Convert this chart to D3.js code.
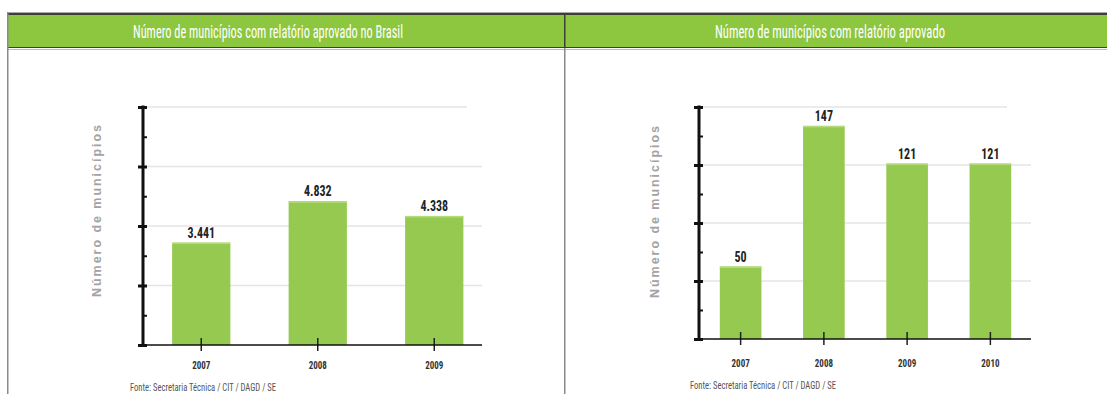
<!DOCTYPE html>
<html>
<head>
<meta charset="utf-8">
<script src="https://cdn.jsdelivr.net/npm/d3@7/dist/d3.min.js"></script>
<style>
  html, body { margin: 0; padding: 0; background: #fff; }
  svg { display: block; }
  .narrow { font-family: "Liberation Sans Narrow", "Arial Narrow", "Roboto Condensed", sans-serif; }
</style>
</head>
<body>
<svg id="c" width="1107" height="394"></svg>
<script>
// ---- Data ----
const titleLeft = "Número de municípios com relatório aprovado no Brasil";
const titleRight = "Número de municípios com relatório aprovado";
const yAxisTitle = "Número de municípios";
const sourceText = "Fonte: Secretaria Técnica / CIT / DAGD / SE";

const yearsLeft = ["2007", "2008", "2009"];
const valuesLeft = [3441, 4832, 4338];
const labelsLeft = ["3.441", "4.832", "4.338"];
const yMaxLeft = 8000;
const yMajorLeft = [0, 2000, 4000, 6000, 8000];
const yMinorLeft = [1000, 3000, 5000, 7000];

const yearsRight = ["2007", "2008", "2009", "2010"];
const valuesRight = [50, 147, 121, 121];
const labelsRight = ["50", "147", "121", "121"];
const yMaxRight = 160;
const yMajorRight = [0, 40, 80, 120, 160];
const yMinorRight = [20, 60, 100, 140];

// ---- Frame ----
const svg = d3.select("#c");
const GREEN = "#8dc63f";
const BAR = "#96c94f";

svg.append("rect").attr("x", 7).attr("y", 12).attr("width", 1100).attr("height", 1).attr("fill", "#aaa");
svg.append("rect").attr("x", 7).attr("y", 13).attr("width", 1100).attr("height", 35).attr("fill", "#3b3f36");
svg.append("rect").attr("x", 8).attr("y", 15).attr("width", 1099).attr("height", 32).attr("fill", GREEN);
svg.append("rect").attr("x", 7).attr("y", 49).attr("width", 1100).attr("height", 1).attr("fill", "#bbb");
svg.append("rect").attr("x", 7).attr("y", 12).attr("width", 1.5).attr("height", 382).attr("fill", "#8a8a8a");
svg.append("rect").attr("x", 564).attr("y", 13).attr("width", 1.5).attr("height", 35).attr("fill", "#3b3f36");
svg.append("rect").attr("x", 564).attr("y", 48).attr("width", 1.5).attr("height", 346).attr("fill", "#8a8a8a");

function condense(sel, f) {
  sel.each(function () {
    const w = this.getComputedTextLength();
    d3.select(this).attr("textLength", w * f).attr("lengthAdjust", "spacingAndGlyphs");
  });
}

function header(text, cx, w) {
  svg.append("text").attr("class", "narrow")
    .attr("x", cx).attr("y", 37.5).attr("text-anchor", "middle")
    .attr("font-size", 18).attr("fill", "#fff")
    .attr("textLength", w).attr("lengthAdjust", "spacingAndGlyphs")
    .text(text);
}
header(titleLeft, 268, 270);
header(titleRight, 830, 230);

function chart(cfg) {
  const g = svg.append("g");
  const x = d3.scaleBand().domain(cfg.years).range([cfg.ax, cfg.xEnd]).paddingInner(0.5).paddingOuter(0.25);
  const y = d3.scaleLinear().domain([0, cfg.yMax]).range([cfg.base, cfg.top]);

  g.selectAll(".grid").data(cfg.major.filter(d => d > 0)).join("line")
    .attr("x1", cfg.ax).attr("x2", d => d === cfg.yMax ? cfg.topGridEnd : cfg.lineEnd)
    .attr("y1", d => y(d)).attr("y2", d => y(d))
    .attr("stroke", "#e4e4e4").attr("stroke-width", 1.5);

  g.selectAll(".bar").data(cfg.values).join("rect")
    .attr("x", (d, i) => x(cfg.years[i]))
    .attr("width", x.bandwidth())
    .attr("y", d => y(d))
    .attr("height", d => cfg.base - y(d))
    .attr("fill", BAR);
  g.selectAll(".barTop").data(cfg.values).join("rect")
    .attr("x", (d, i) => x(cfg.years[i]))
    .attr("width", x.bandwidth())
    .attr("y", d => y(d)).attr("height", 1.5)
    .attr("fill", "#b4dc7c");

  const vals = g.selectAll(".val").data(cfg.values).join("text")
    .attr("class", "narrow")
    .attr("x", (d, i) => x(cfg.years[i]) + x.bandwidth() / 2)
    .attr("y", d => y(d) - 5)
    .attr("text-anchor", "middle")
    .attr("font-size", 15).attr("font-weight", "bold").attr("fill", "#222")
    .text((d, i) => cfg.labels[i]);
  condense(vals, 0.8);

  const yAxis = d3.axisLeft(y).tickValues(cfg.major).tickFormat("").tickSizeInner(5).tickSizeOuter(0);
  const ya = g.append("g").attr("transform", `translate(${cfg.ax},0)`).call(yAxis);
  ya.select(".domain").remove();
  ya.selectAll(".tick line").attr("x1", 4).attr("x2", -5).attr("stroke", "#111").attr("stroke-width", 3);
  const yMinor = d3.axisLeft(y).tickValues(cfg.minor).tickFormat("").tickSizeInner(-4).tickSizeOuter(0);
  const ym = g.append("g").attr("transform", `translate(${cfg.ax},0)`).call(yMinor);
  ym.select(".domain").remove();
  ym.selectAll(".tick line").attr("stroke", "#111").attr("stroke-width", 2);

  const xAxis = d3.axisBottom(x).tickSizeInner(7).tickSizeOuter(0).tickPadding(9);
  const xa = g.append("g").attr("transform", `translate(0,${cfg.base})`).call(xAxis);
  xa.select(".domain").remove();
  xa.selectAll(".tick line").attr("y1", -7).attr("y2", 6).attr("stroke", "#222").attr("stroke-width", 1.5);
  const yt = xa.selectAll(".tick text").attr("class", "narrow")
    .attr("font-size", 11.5).attr("font-weight", "bold").attr("fill", "#333")
    .attr("dy", "0").attr("y", cfg.yearY - cfg.base);
  condense(yt, 0.78);
  g.append("line").attr("x1", cfg.ax - 3).attr("x2", cfg.lineEnd)
    .attr("y1", cfg.base).attr("y2", cfg.base).attr("stroke", "#111").attr("stroke-width", 1.5);
  g.append("line").attr("x1", cfg.ax).attr("x2", cfg.ax)
    .attr("y1", cfg.top - 1.5).attr("y2", cfg.base + 1)
    .attr("stroke", "#111").attr("stroke-width", 3);

  g.append("text")
    .attr("transform", `translate(${cfg.titleX},${cfg.titleY}) rotate(-90)`)
    .attr("text-anchor", "middle")
    .attr("font-family", "Liberation Sans, Arial, sans-serif")
    .attr("font-size", 12.5).attr("font-weight", "bold")
    .attr("fill", "#a3a3a3")
    .attr("textLength", 172).attr("lengthAdjust", "spacing")
    .text(yAxisTitle);

  g.append("text").attr("class", "narrow")
    .attr("x", cfg.srcX).attr("y", cfg.srcY)
    .attr("font-size", 11).attr("fill", "#555")
    .attr("textLength", 146).attr("lengthAdjust", "spacingAndGlyphs")
    .text(sourceText);
}

chart({
  years: yearsLeft, values: valuesLeft, labels: labelsLeft,
  yMax: yMaxLeft, major: yMajorLeft, minor: yMinorLeft,
  ax: 143, xEnd: 492.5, top: 107, base: 345, lineEnd: 482, topGridEnd: 467,
  yearY: 369, titleX: 101, titleY: 211, srcX: 130, srcY: 391
});
chart({
  years: yearsRight, values: valuesRight, labels: labelsRight,
  yMax: yMaxRight, major: yMajorRight, minor: yMinorRight,
  ax: 699, xEnd: 1032, top: 107, base: 339, lineEnd: 1031, topGridEnd: 1007,
  yearY: 367, titleX: 659, titleY: 212, srcX: 690, srcY: 389
});
</script>
</body>
</html>
